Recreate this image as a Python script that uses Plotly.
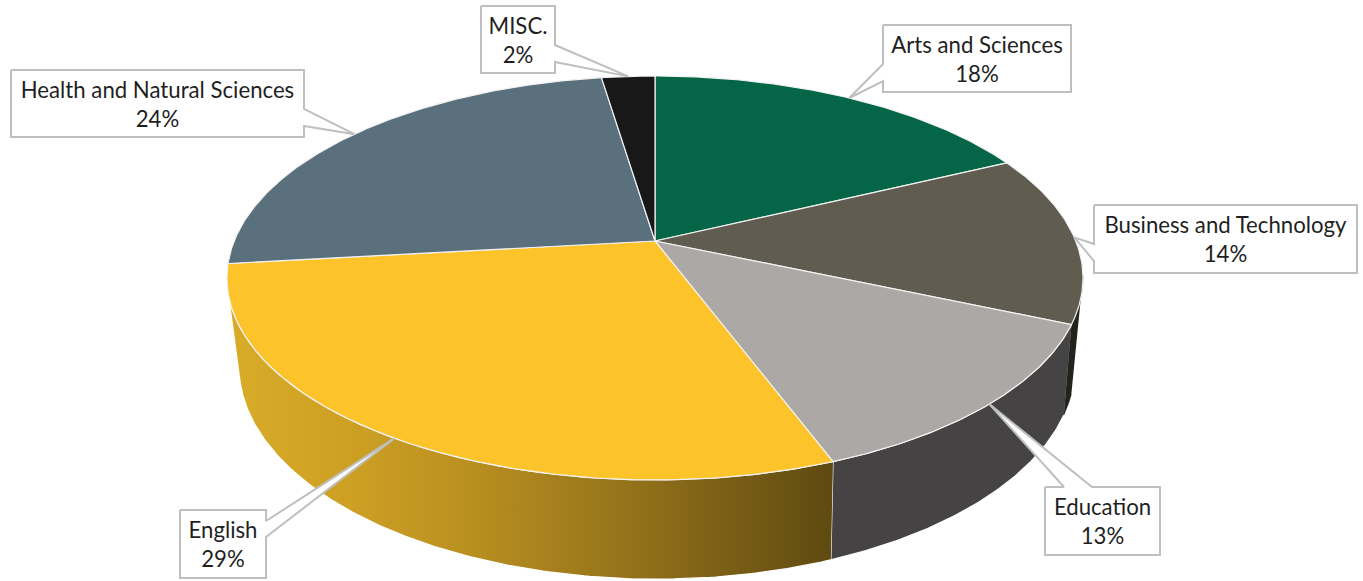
import numpy as np
import plotly.graph_objects as go

# ---- data ----
categories = ["Arts and Sciences", "Business and Technology", "Education",
              "English", "Health and Natural Sciences", "MISC."]
label_names = categories
values = [17.9, 13.6, 12.8, 28.9, 24.4, 2.4]

# ---- styles ----
top_colors = ["#056647", "#605C50", "#ABA8A6", "#FCC32A", "#5A707D", "#181818"]
side_colors = {1: "#23231D", 2: "#454344"}
english_gradient = [[0, "#D8AB28"], [0.2, "#CDA024"], [0.4, "#B98F20"],
                    [0.7, "#8F6E1A"], [1, "#5F4A10"]]
TEXT = "#1F1F1F"
BOX = "#BFBFBF"

# ---- layout geometry (pixel-sized axes) ----
W, H = 1363, 581
K = 0.183
TOP = dict(cx=655, a=420.8, b=195.2, y=241)
BOT = dict(cx=657, a=411.0, b=206.0, y=327)
LEFT_SILHOUETTE = 255  # angle where the wall disappears behind the top face


def rim(theta_deg, disc):
    t = np.radians(np.asarray(theta_deg, dtype=float))
    w = 1 + K * np.cos(t)
    return disc["cx"] + disc["a"] * np.sin(t) / w, disc["y"] - disc["b"] * np.cos(t) / w


cum = np.concatenate([[0], np.cumsum(values)]) / sum(values) * 360
starts, ends = cum[:-1], cum[1:]

fig = go.Figure()


def poly(x, y, color=None, line="#FFFFFF", width=1.0, **kw):
    props = dict(x=list(x), y=list(y), mode="lines", fill="toself",
                 line=dict(color=line, width=width), hoverinfo="skip",
                 showlegend=False)
    if color:
        props["fillcolor"] = color
    props.update(kw)
    fig.add_trace(go.Scatter(**props))


# side walls, back to front
# Business: only a sliver is visible
i = 1
tx, ty = rim(np.linspace(100, ends[i], 40), TOP)
bx, by = rim(np.linspace(108, ends[i], 40), BOT)
poly(np.r_[tx, bx[::-1]], np.r_[ty, by[::-1]], side_colors[1], line="#23231D", width=0.5)
# Education
i = 2
tx, ty = rim(np.linspace(starts[i], ends[i], 80), TOP)
bx, by = rim(np.linspace(starts[i], ends[i], 80), BOT)
poly(np.r_[tx, bx[::-1]], np.r_[ty, by[::-1]], side_colors[2], width=1.2)
# English
i = 3
tx, ty = rim(np.linspace(starts[i], LEFT_SILHOUETTE, 160), TOP)
bx, by = rim(np.linspace(starts[i], LEFT_SILHOUETTE, 160), BOT)
poly(np.r_[tx, bx[::-1]], np.r_[ty, by[::-1]], None, width=1.2,
     fillgradient=dict(type="horizontal", colorscale=english_gradient,
                       start=232, stop=830))

# top face
for i, c in enumerate(top_colors):
    n = max(12, int((ends[i] - starts[i]) * 2))
    rx, ry = rim(np.linspace(starts[i], ends[i], n), TOP)
    poly(np.r_[TOP["cx"], rx, TOP["cx"]], np.r_[TOP["y"], ry, TOP["y"]], c,
         line="#F2F2F2", width=1.2)

# ---- callouts: box (x0, x1, y0, y1), edge the pointer leaves from, pointer base ----
boxes = {
    "Arts and Sciences": (883, 1071, 25, 92, "left", (64, 81)),
    "Business and Technology": (1094, 1357, 205, 273, "left", (244, 261)),
    "Education": (1045, 1160, 487, 555, "top", (1064, 1092)),
    "English": (180, 266, 510, 578, "right", (521, 537)),
    "Health and Natural Sciences": (11, 304, 70, 137, "right", (109, 126)),
    "MISC.": (481, 555, 6, 73, "right", (45, 62)),
}
for i, name in enumerate(categories):
    x0, x1, y0, y1, edge, (p, q) = boxes[name]
    tipx, tipy = rim((starts[i] + ends[i]) / 2, TOP)
    tipx, tipy = float(tipx), float(tipy)
    if edge == "left":
        pts = [(x0, y0), (x1, y0), (x1, y1), (x0, y1), (x0, q), (tipx, tipy), (x0, p), (x0, y0)]
    elif edge == "right":
        pts = [(x0, y0), (x1, y0), (x1, p), (tipx, tipy), (x1, q), (x1, y1), (x0, y1), (x0, y0)]
    else:
        pts = [(x0, y0), (p, y0), (tipx, tipy), (q, y0), (x1, y0), (x1, y1), (x0, y1), (x0, y0)]
    poly([a for a, _ in pts], [b for _, b in pts], "#FFFFFF", line=BOX, width=2)
    xc = (x0 + x1) / 2
    for txt, yy in ((label_names[i], y0 + 22), (f"{round(values[i])}%", y0 + 51)):
        fig.add_trace(go.Scatter(x=[xc], y=[yy], mode="text", text=[txt],
                                 textposition="middle center",
                                 textfont=dict(family="Lato", size=22.2, color=TEXT),
                                 hoverinfo="skip", showlegend=False))

fig.update_layout(
    width=W, height=H, margin=dict(l=0, r=0, t=0, b=0, pad=0),
    paper_bgcolor="#FFFFFF", plot_bgcolor="#FFFFFF", showlegend=False,
    xaxis=dict(range=[0, W], visible=False, fixedrange=True),
    yaxis=dict(range=[H, 0], visible=False, fixedrange=True),
)
fig.write_html("out.html", config={"displayModeBar": False},
               post_script="document.body.style.margin='0';document.documentElement.style.overflow='hidden';")
